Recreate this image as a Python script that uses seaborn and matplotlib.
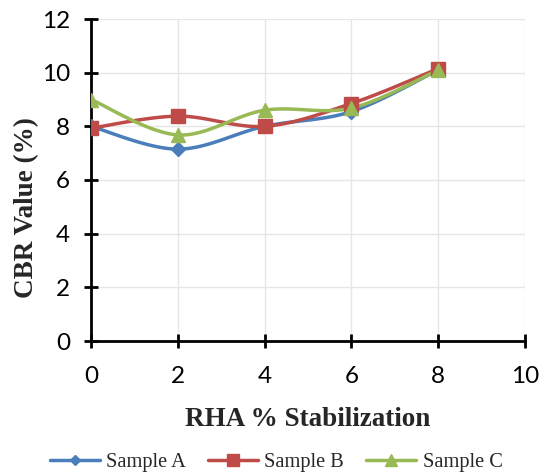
import numpy as np
import pandas as pd
import matplotlib
matplotlib.use("Agg")
import matplotlib.pyplot as plt
import seaborn as sns

rha = [0, 2, 4, 6, 8]
sample_a = [8.0, 7.15, 8.0, 8.55, 10.1]
sample_b = [7.93, 8.38, 8.0, 8.85, 10.15]
sample_c = [9.0, 7.68, 8.6, 8.68, 10.1]
series_names = ["Sample A", "Sample B", "Sample C"]
colors = ["#4A7EBB", "#BE4B48", "#98B954"]
markers = ["D", "s", "^"]
msizes = [7, 10, 10]

sns.set_theme(style="white")
plt.rcParams['font.family'] = ['Liberation Serif', 'DejaVu Serif']

def smooth(x, y, n=30):
    # Excel-style smoothed line (cardinal Bezier through points)
    x = np.asarray(x, float); y = np.asarray(y, float)
    xs, ys = [], []
    for i in range(len(x) - 1):
        p0 = np.array([x[max(i-1, 0)], y[max(i-1, 0)]])
        p1 = np.array([x[i], y[i]])
        p2 = np.array([x[i+1], y[i+1]])
        p3 = np.array([x[min(i+2, len(x)-1)], y[min(i+2, len(x)-1)]])
        c1 = p1 + (p2 - p0) / 6
        c2 = p2 - (p3 - p1) / 6
        t = np.linspace(0, 1, n)[:, None]
        pts = (1-t)**3*p1 + 3*(1-t)**2*t*c1 + 3*(1-t)*t**2*c2 + t**3*p2
        xs.extend(pts[:, 0]); ys.extend(pts[:, 1])
    return np.array(xs), np.array(ys)

fig = plt.figure(figsize=(5.45, 4.76), dpi=100)
ax = fig.add_axes([91/545, 1-341/476, (525-91)/545, (341-19)/476])

handles = []
for name, vals, c, m, ms in zip(series_names, [sample_a, sample_b, sample_c], colors, markers, msizes):
    sx, sy = smooth(rha, vals)
    sns.lineplot(x=sx, y=sy, ax=ax, color=c, lw=2.5, sort=False, estimator=None, legend=False)
    ax.plot(rha, vals, linestyle='none', marker=m, color=c, markersize=ms, zorder=3)
    h, = ax.plot([], [], color=c, lw=2.5, marker=m, markersize=ms*0.8, label=name)
    handles.append(h)

ax.set_xlim(0, 10)
ax.set_ylim(0, 12)
ax.set_xticks(range(0, 11, 2))
ax.set_yticks(range(0, 13, 2))
ax.grid(True, color="#E6E6E6", lw=1)
for s in ["top", "right"]:
    ax.spines[s].set_visible(False)
for s in ["left", "bottom"]:
    ax.spines[s].set_color("black")
    ax.spines[s].set_linewidth(2)
ax.tick_params(axis='both', direction='inout', length=10, width=2, colors='black',
               labelsize=17.5, left=True, bottom=True)
ax.tick_params(axis='x', pad=13)
ax.tick_params(axis='y', pad=10)
for lbl in ax.get_xticklabels() + ax.get_yticklabels():
    lbl.set_fontfamily(['Lato', 'DejaVu Sans'])
ax.set_xlabel("RHA % Stabilization", fontsize=19.5, fontweight='bold')
ax.set_ylabel("CBR Value (%)", fontsize=19.5, fontweight='bold')
ax.xaxis.set_label_coords(0.5, (341-419)/322 + 0, transform=ax.transAxes)
ax.xaxis.label.set_va('center')
ax.yaxis.set_label_coords((27-91)/434, (341-208)/322, transform=ax.transAxes)
ax.yaxis.label.set_va('center')

leg = fig.legend(handles=handles, loc='center', bbox_to_anchor=(276/545, 1-462/476), ncol=3, frameon=False,
                 fontsize=14.7, handlelength=2.45, columnspacing=1.1, handletextpad=0.3)
fig.savefig("out.png", dpi=100)
